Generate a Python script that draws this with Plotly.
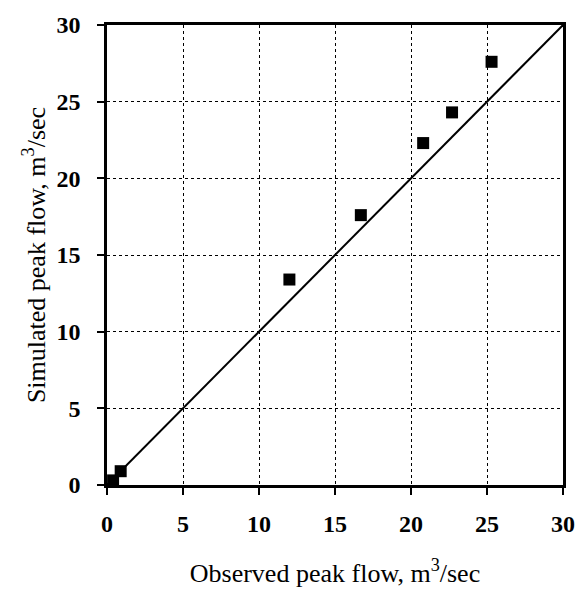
import plotly.graph_objects as go

observed = [0.4, 0.9, 12.0, 16.7, 20.8, 22.7, 25.3]
simulated = [0.3, 0.9, 13.4, 17.6, 22.3, 24.3, 27.6]
line_x = [0, 30]
line_y = [0, 30]
tick_vals = [0, 5, 10, 15, 20, 25, 30]

fig = go.Figure()
fig.add_trace(go.Scatter(x=line_x, y=line_y, mode="lines",
                         line=dict(color="black", width=2), showlegend=False))
fig.add_trace(go.Scatter(x=observed, y=simulated, mode="markers",
                         marker=dict(symbol="square", size=12, color="black"),
                         showlegend=False))

fam = "Liberation Serif, Times New Roman, serif"
axis_common = dict(
    range=[0, 30], tickvals=tick_vals,
    showgrid=True, gridcolor="black", gridwidth=1, griddash="dot",
    showline=True, linecolor="black", linewidth=2.5, mirror=True,
    ticks="outside", ticklen=7, tickcolor="black", tickwidth=1.5,
    zeroline=False,
    tickfont=dict(size=24, family=fam, color="black", weight="bold"),
)
fig.update_layout(
    width=587, height=596,
    margin=dict(l=107, r=15, t=18, b=108),
    plot_bgcolor="white", paper_bgcolor="white",
    font=dict(family=fam, color="black"),
    xaxis=dict(**axis_common, ticklabelstandoff=8,
               title=dict(text="Observed peak flow, m<sup>3</sup>/sec",
                          font=dict(size=26, family=fam, color="black"),
                          standoff=29)),
    yaxis=dict(**axis_common, ticklabelstandoff=12,
               title=dict(text="Simulated peak flow, m<sup>3</sup>/sec",
                          font=dict(size=26, family=fam, color="black"),
                          standoff=4)),
)
fig.write_html("out.html", config={"displayModeBar": False},
               post_script="document.body.style.margin='0';document.body.style.overflow='hidden';")
